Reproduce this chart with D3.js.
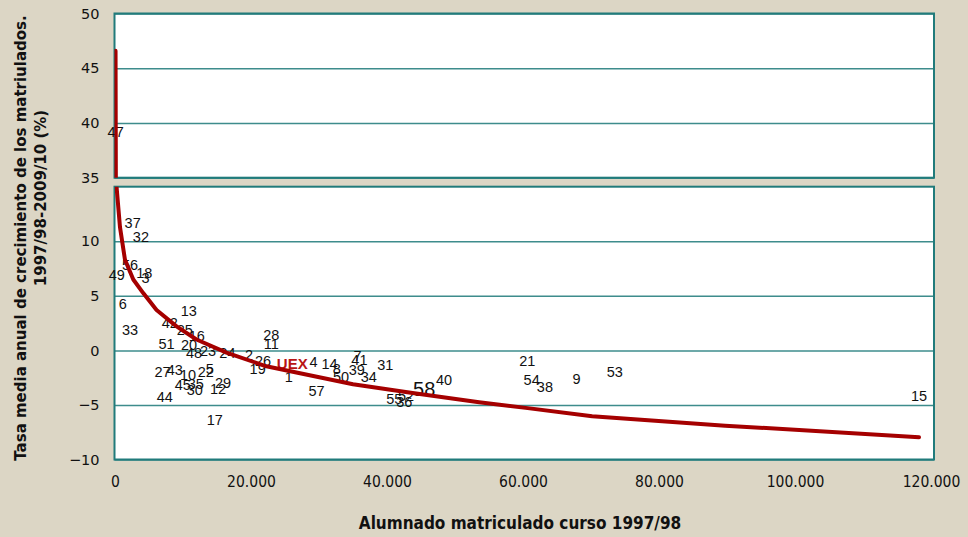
<!DOCTYPE html>
<html>
<head>
<meta charset="utf-8">
<script src="https://cdn.jsdelivr.net/npm/d3@7"></script>
<style>
  html, body { margin: 0; padding: 0; background: #DCD6C5; }
  svg { display: block; }
</style>
</head>
<body>
<svg id="chart" width="968" height="537"></svg>
<script>
// ---------- DATA ----------
const labels = ["47","37","32","56","49","18","3","6","13","33","42","25","16","51","20","48","23","24","2","26","19","28","11","UEX","4","14","1","57","27","43","10","22","5","45","35","30","29","12","44","17","8","50","7","41","39","34","31","55","36","52","58","40","21","54","38","9","53","15"];
const xValues = [100,2600,3810,2200,250,4300,4500,1130,10860,2200,8070,10270,12030,7580,10900,11630,13690,16530,19700,21760,20980,22990,22990,26070,29190,31540,25570,29630,7000,8800,10750,13350,13940,9980,11880,11740,15890,15160,7330,14670,32610,33250,35650,35940,35550,37310,39760,41080,42540,42790,45470,48400,60630,61270,63220,67870,73490,118240];
const yValues = [39.2,11.65,10.43,7.84,6.93,7.08,6.62,4.27,3.63,1.83,2.5,1.9,1.35,0.61,0.52,-0.24,-0.09,-0.24,-0.39,-1.0,-1.67,1.44,0.61,-1.22,-1.1,-1.25,-2.43,-3.7,-2.0,-1.77,-2.22,-2.0,-1.7,-3.2,-3.05,-3.6,-3.0,-3.5,-4.27,-6.4,-1.7,-2.43,-0.48,-0.85,-1.83,-2.43,-1.3,-4.5,-4.75,-4.15,-3.53,-2.68,-1.0,-2.68,-3.35,-2.62,-1.98,-4.2];
const trendX = [80,200,733,1467,2690,4150,6110,9050,11980,16390,22250,35000,43760,53550,60400,70170,89730,118240];
const trendY = [46.6,15.2,11.3,8.3,6.5,5.25,3.7,2.2,1.0,-0.2,-1.46,-3.1,-3.9,-4.75,-5.27,-6.04,-6.9,-7.96];
const xTicks = [0,20000,40000,60000,80000,100000,120000];
const yTicksUpper = [35,40,45,50];
const yTicksLower = [-10,-5,0,5,10];
const xTitle = "Alumnado matriculado curso 1997/98";
const yTitle1 = "Tasa media anual de crecimiento de los matriulados.";
const yTitle2 = "1997/98-2009/10 (%)";

// ---------- LAYOUT ----------
const svg = d3.select("#chart");
const L = 114.5, R = 934;
const upTop = 13.5, upBot = 177.7, lowTop = 186.7, lowBot = 459.5;
const teal = "#217B7B", gridCol = "#3D8C8C", red = "#A50000";

const x = d3.scaleLinear().domain([0,120000]).range([115,931]);
const yUp = d3.scaleLinear().domain([35,50]).range([upBot,upTop]);
const yLow = d3.scaleLinear().domain([-10,15]).range([lowBot,lowTop]);

const locale = d3.formatLocale({decimal:",", thousands:".", grouping:[3], currency:["",""]});
const fmt = locale.format(",d");

// panels
const defs = svg.append("defs");
defs.append("clipPath").attr("id","clipUp").append("rect")
  .attr("x",L).attr("y",upTop).attr("width",R-L).attr("height",upBot-upTop);
defs.append("clipPath").attr("id","clipLow").append("rect")
  .attr("x",L).attr("y",lowTop).attr("width",R-L).attr("height",lowBot-lowTop);

[[upTop,upBot],[lowTop,lowBot]].forEach(([t,b]) => {
  svg.append("rect").attr("x",L).attr("y",t).attr("width",R-L).attr("height",b-t)
    .attr("fill","#fff");
});

// gridlines + y tick labels through axes
function yAxis(scale, ticks) {
  const g = svg.append("g").attr("transform",`translate(${L},0)`)
    .call(d3.axisLeft(scale).tickValues(ticks).tickSize(-(R-L)).tickPadding(15));
  g.select(".domain").remove();
  g.selectAll(".tick line").attr("stroke",gridCol).attr("stroke-width",1.5);
  g.selectAll(".tick text").attr("fill","#111")
    .style("font-family","'DejaVu Sans', Verdana, sans-serif").style("font-size","14.5px");
  return g;
}
yAxis(yUp, yTicksUpper);
yAxis(yLow, yTicksLower);

// panel borders
[[upTop,upBot],[lowTop,lowBot]].forEach(([t,b]) => {
  svg.append("rect").attr("x",L).attr("y",t).attr("width",R-L).attr("height",b-t)
    .attr("fill","none").attr("stroke",teal).attr("stroke-width",2);
});

// x axis labels
const gx = svg.append("g").attr("transform",`translate(0,${lowBot})`)
  .call(d3.axisBottom(x).tickValues(xTicks).tickFormat(fmt).tickSize(0).tickPadding(16));
gx.select(".domain").remove();
gx.selectAll(".tick text").attr("fill","#111")
  .style("font-family","'DejaVu Sans Condensed', 'DejaVu Sans', sans-serif")
  .style("font-stretch","condensed").style("font-size","15.5px");

// data labels
const pts = labels.map((l,i) => ({l, v:xValues[i], y:yValues[i]}));
svg.append("g").selectAll("text").data(pts).join("text")
  .attr("x", d => x(d.v))
  .attr("y", d => d.y >= 35 ? yUp(d.y) : yLow(d.y))
  .attr("text-anchor","middle").attr("dominant-baseline","central")
  .style("font-family", "'Liberation Sans', Arial, sans-serif")
  .style("font-size", d => d.l === "58" ? "20px" : (d.l === "UEX" ? "15px" : "14.5px"))
  .style("font-weight", d => d.l === "UEX" ? "bold" : "normal")
  .attr("fill", d => d.l === "UEX" ? "#B81414" : "#111")
  .text(d => d.l);

// trend curve, drawn in each panel
const trend = trendX.map((v,i) => ({v, y:trendY[i]}));
[["clipUp",yUp],["clipLow",yLow]].forEach(([cid,sc]) => {
  svg.append("path").datum(trend)
    .attr("clip-path",`url(#${cid})`)
    .attr("d", d3.line().x(d => x(d.v)).y(d => sc(d.y)))
    .attr("fill","none").attr("stroke",red).attr("stroke-width",4)
    .attr("stroke-linejoin","round").attr("stroke-linecap","round");
});

// titles
svg.append("text").attr("x",520).attr("y",523)
  .attr("text-anchor","middle").attr("dominant-baseline","central")
  .style("font-family","'DejaVu Sans Condensed', 'DejaVu Sans', sans-serif")
  .style("font-stretch","condensed").style("font-weight","bold").style("font-size","17px")
  .attr("fill","#111").text(xTitle);

svg.append("text").attr("transform","translate(21,238) rotate(-90)")
  .attr("text-anchor","middle").attr("dominant-baseline","central")
  .style("font-family","'DejaVu Sans', Verdana, sans-serif")
  .style("font-weight","bold").style("font-size","15px")
  .attr("fill","#111").text(yTitle1);
svg.append("text").attr("transform","translate(41,198) rotate(-90)")
  .attr("text-anchor","middle").attr("dominant-baseline","central")
  .style("font-family","'DejaVu Sans', Verdana, sans-serif")
  .style("font-weight","bold").style("font-size","15px")
  .attr("fill","#111").text(yTitle2);
</script>
</body>
</html>
